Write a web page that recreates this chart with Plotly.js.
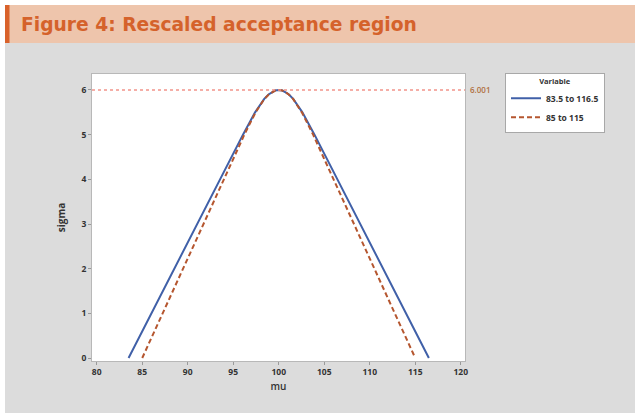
<!DOCTYPE html>
<html>
<head>
<meta charset="utf-8">
<script src="https://cdn.plot.ly/plotly-3.0.1.min.js"></script>
<style>
html,body{margin:0;padding:0;background:#ffffff;}
#chart{width:635px;height:413px;}
</style>
</head>
<body>
<div id="chart"></div>
<script>
// ---- data ----
const seriesNames = ["83.5 to 116.5", "85 to 115"];
const muBlue = [83.5, 86.01, 88.53, 91.04, 93.56, 94.81, 96.07, 97.40, 98.41, 98.88, 99.29, 99.6, 100,
                100.4, 100.71, 101.12, 101.59, 102.6, 103.93, 105.19, 106.44, 108.96, 111.47, 113.99, 116.5];
const sigmaBlue = [0, 1, 2, 3, 4, 4.5, 5, 5.5, 5.8, 5.9, 5.95, 5.987, 6,
                   5.987, 5.95, 5.9, 5.8, 5.5, 5, 4.5, 4, 3, 2, 1, 0];
const muOrange = [85, 87.24, 89.49, 91.73, 93.98, 95.1, 96.22, 97.46, 98.42, 98.9, 99.25, 99.6, 100,
                  100.4, 100.75, 101.1, 101.58, 102.54, 103.78, 104.9, 106.02, 108.27, 110.51, 112.76, 115];
const sigmaOrange = [0, 1, 2, 3, 4, 4.5, 5, 5.5, 5.8, 5.9, 5.95, 5.988, 6,
                     5.988, 5.95, 5.9, 5.8, 5.5, 5, 4.5, 4, 3, 2, 1, 0];
const refValue = 6.001;
const refLabel = "6.001";
const xTicks = [80, 85, 90, 95, 100, 105, 110, 115, 120];
const yTicks = [0, 1, 2, 3, 4, 5, 6];
const chartTitle = "Figure 4: Rescaled acceptance region";

// ---- layout geometry (pixels) ----
const W = 635, H = 413;
const L = 92, R = 465, T = 74, B = 361;
const px = x => (x - L) / (R - L);
const py = y => (B - y) / (B - T);

const traces = [
  {x: muBlue, y: sigmaBlue, type: 'scatter', mode: 'lines', name: seriesNames[0],
   line: {color: '#4060A8', width: 2}},
  {x: muOrange, y: sigmaOrange, type: 'scatter', mode: 'lines', name: seriesNames[1],
   line: {color: '#B5562F', width: 2, dash: '5px,3px'}}
];

const tickFont = {family: 'Open Sans, sans-serif', size: 8.5, color: '#333333', weight: 700};

const layout = {
  width: W, height: H,
  margin: {l: L, r: W - R, t: T, b: H - B, pad: 0},
  paper_bgcolor: '#DCDCDC',
  plot_bgcolor: '#FFFFFF',
  showlegend: true,
  xaxis: {
    range: [79.48, 120.47], tickvals: xTicks, ticktext: xTicks.map(String),
    showgrid: false, zeroline: false, showline: true, mirror: true,
    linecolor: '#B8B8B8', linewidth: 1,
    ticks: 'outside', ticklen: 3, tickcolor: '#9a9a9a',
    tickfont: tickFont,
    title: {text: 'mu', font: {family: 'Open Sans, sans-serif', size: 10, color: '#333', weight: 600}, standoff: 6}
  },
  yaxis: {
    range: [-0.067, 6.358], tickvals: yTicks, ticktext: yTicks.map(String),
    showgrid: false, zeroline: false, showline: true, mirror: true,
    linecolor: '#B8B8B8', linewidth: 1,
    ticks: 'outside', ticklen: 3, tickcolor: '#9a9a9a',
    tickfont: tickFont,
    title: {text: 'sigma', font: {family: 'Open Sans, sans-serif', size: 10, color: '#333', weight: 700}, standoff: 13}
  },
  legend: {
    x: px(505), y: py(73), xanchor: 'left', yanchor: 'top',
    bgcolor: '#FFFFFF', bordercolor: '#A8A8A8', borderwidth: 1,
    font: {family: 'Open Sans, sans-serif', size: 8.5, color: '#333', weight: 700},
    title: {text: 'Variable', side: 'top center', font: {family: 'Open Sans, sans-serif', size: 7.5, color: '#333', weight: 700}},
    tracegroupgap: 0, itemwidth: 30
  },
  shapes: [
    // white outer margins
    {type: 'rect', xref: 'paper', yref: 'paper', x0: px(0), x1: px(W), y0: py(5), y1: py(0),
     fillcolor: '#FFFFFF', line: {width: 0}, layer: 'below'},
    {type: 'rect', xref: 'paper', yref: 'paper', x0: px(0), x1: px(5), y0: py(H), y1: py(0),
     fillcolor: '#FFFFFF', line: {width: 0}, layer: 'below'},
    // title bar
    {type: 'rect', xref: 'paper', yref: 'paper', x0: px(5), x1: px(W), y0: py(43), y1: py(5),
     fillcolor: '#EEC5AC', line: {width: 0}, layer: 'below'},
    {type: 'rect', xref: 'paper', yref: 'paper', x0: px(5), x1: px(9.5), y0: py(43), y1: py(5),
     fillcolor: '#D9622B', line: {width: 0}, layer: 'below'},
    // reference line
    {type: 'line', xref: 'paper', yref: 'y', x0: 0, x1: 1, y0: refValue, y1: refValue,
     line: {color: '#F2948A', width: 1.5, dash: '3px,3px'}}
  ],
  annotations: [
    {text: '<b>' + chartTitle + '</b>', xref: 'paper', yref: 'paper', x: px(19), y: py(24.5),
     xanchor: 'left', yanchor: 'middle', showarrow: false,
     font: {family: 'DejaVu Sans, sans-serif', size: 18.7, color: '#D5622B'}},
    {text: refLabel, xref: 'paper', yref: 'y', x: px(468), y: refValue,
     xanchor: 'left', yanchor: 'middle', showarrow: false,
     font: {family: 'Open Sans, sans-serif', size: 8, color: '#B07040', weight: 600}}
  ]
};

Plotly.newPlot('chart', traces, layout, {displayModeBar: false, staticPlot: true});
</script>
</body>
</html>
